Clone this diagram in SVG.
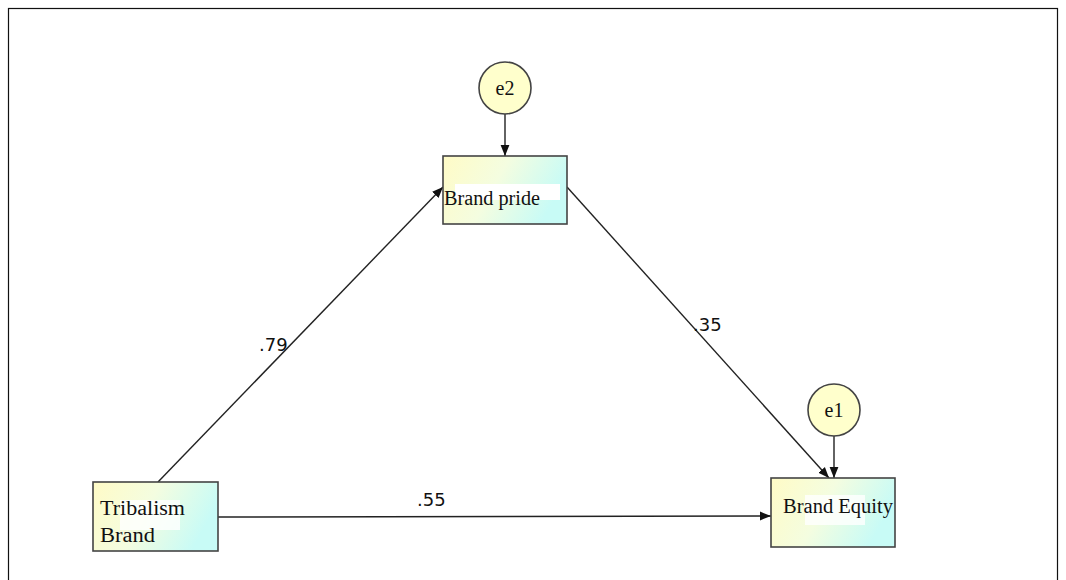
<svg xmlns="http://www.w3.org/2000/svg" width="1066" height="580" viewBox="0 0 1066 580">
<defs>
<linearGradient id="bg" x1="0" y1="0" x2="1" y2="0.3">
<stop offset="0" stop-color="#fffbc6"/>
<stop offset="0.5" stop-color="#f4fde0"/>
<stop offset="1" stop-color="#c8fbf6"/>
</linearGradient>
<marker id="ah" viewBox="0 0 10 10" refX="10" refY="5" markerWidth="11" markerHeight="11" markerUnits="userSpaceOnUse" orient="auto">
<path d="M0,1 L10,5 L0,9 z" fill="#111"/>
</marker>
</defs>
<style>
.box{fill:url(#bg);stroke:#444;stroke-width:1.6}
.circ{fill:#ffffcc;stroke:#444;stroke-width:1.6}
.lbl{font-family:"Liberation Serif",serif;font-size:20px;fill:#111}
.coef{font-family:"DejaVu Sans","Liberation Sans",sans-serif;font-size:18px;fill:#111}
.edge{stroke:#222;stroke-width:1.4;fill:none;marker-end:url(#ah)}
</style>
<rect x="0" y="0" width="1066" height="580" fill="#fff"/>
<rect x="8.5" y="8.5" width="1049" height="580" fill="none" stroke="#111" stroke-width="1.2"/>
<g id="connectors">
<line class="edge" x1="505" y1="114" x2="505" y2="156"/>
<line class="edge" x1="158" y1="482" x2="443" y2="187"/>
<line class="edge" x1="567" y1="187" x2="829" y2="478"/>
<line class="edge" x1="218" y1="517" x2="771" y2="516"/>
<line class="edge" x1="834" y1="436" x2="834" y2="478"/>
<text class="coef" x="259" y="351">.79</text>
<text class="coef" x="693" y="331">.35</text>
<text class="coef" x="417" y="506">.55</text>
</g>
<g id="e2">
<circle class="circ" cx="505" cy="88" r="26"/>
<text class="lbl" x="505" y="95" text-anchor="middle">e2</text>
</g>
<g id="e1">
<circle class="circ" cx="834" cy="410" r="26"/>
<text class="lbl" x="834" y="417" text-anchor="middle">e1</text>
</g>
<g id="brand-pride">
<rect class="box" x="443" y="156" width="124" height="68"/>
<rect x="455" y="184" width="105" height="16" fill="#fff"/>
<text class="lbl" x="444" y="205" textLength="96" lengthAdjust="spacingAndGlyphs">Brand pride</text>
</g>
<g id="tribalism-brand">
<rect class="box" x="93" y="482" width="125" height="69"/>
<rect x="120" y="500" width="60" height="30" fill="#fff" opacity="0.8"/>
<text class="lbl" x="100" y="515" font-size="21" textLength="85" lengthAdjust="spacingAndGlyphs">Tribalism</text>
<text class="lbl" x="100" y="542" font-size="21" textLength="55" lengthAdjust="spacingAndGlyphs">Brand</text>
</g>
<g id="brand-equity">
<rect class="box" x="771" y="478" width="124" height="69"/>
<rect x="805" y="495" width="60" height="30" fill="#fff" opacity="0.8"/>
<text class="lbl" x="783" y="513" textLength="110" lengthAdjust="spacingAndGlyphs">Brand Equity</text>
</g>
</svg>
